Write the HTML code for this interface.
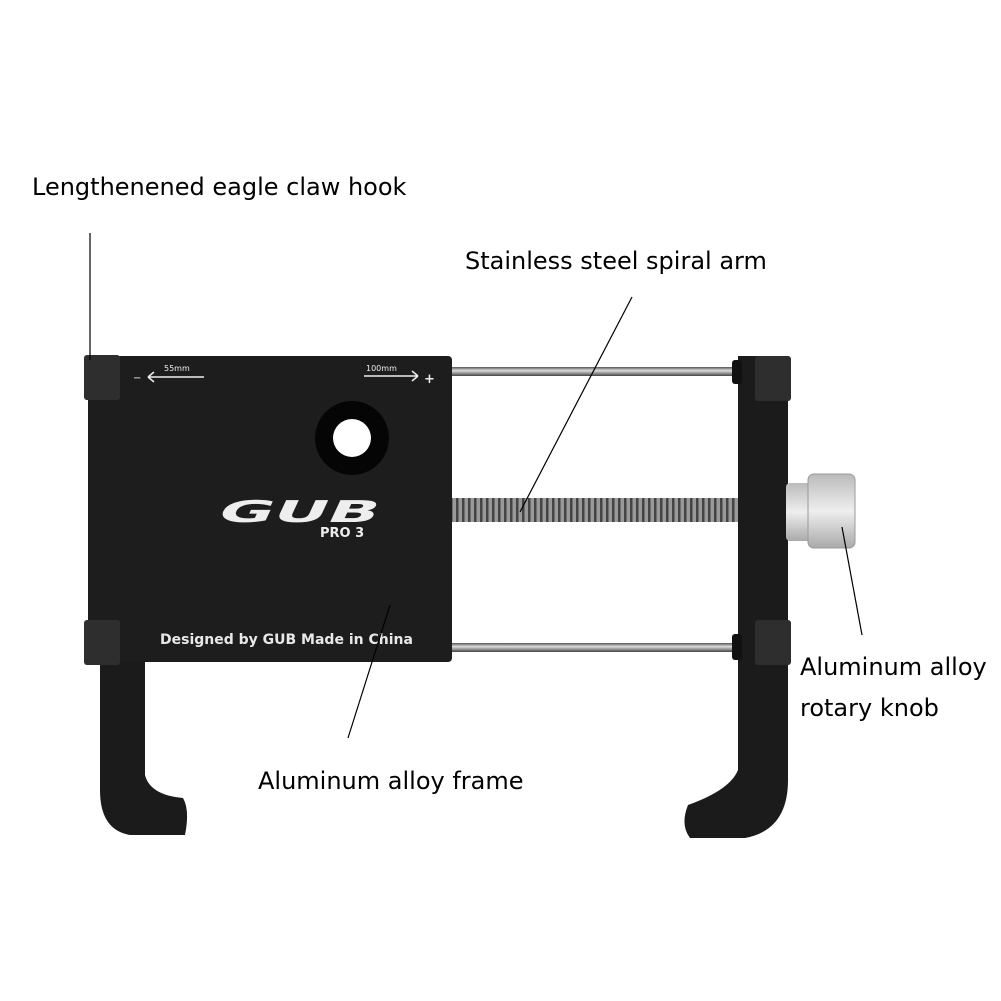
<!DOCTYPE html>
<html><head><meta charset="utf-8"><style>
html,body{margin:0;padding:0;background:#fff;width:1001px;height:1001px;overflow:hidden}
svg{display:block}
text{font-family:"DejaVu Sans","Liberation Sans",sans-serif}
</style></head><body>
<svg width="1001" height="1001" viewBox="0 0 1001 1001">
<defs>
<linearGradient id="rod" x1="0" y1="0" x2="0" y2="1"><stop offset="0" stop-color="#555"/><stop offset=".4" stop-color="#ddd"/><stop offset="1" stop-color="#444"/></linearGradient>
<pattern id="thr" width="6" height="22" patternUnits="userSpaceOnUse"><rect width="6" height="22" fill="#999"/><rect width="2.5" height="22" fill="#444"/></pattern>
<linearGradient id="knob" x1="0" y1="0" x2="0" y2="1"><stop offset="0" stop-color="#bbb"/><stop offset=".5" stop-color="#eee"/><stop offset="1" stop-color="#aaa"/></linearGradient>
</defs>
<rect x="450" y="367" width="292" height="9" fill="url(#rod)"/>
<rect x="450" y="643" width="292" height="9" fill="url(#rod)"/>
<rect x="450" y="498" width="292" height="24" fill="url(#thr)"/>
<path d="M100 650 L145 650 L145 775 Q150 795 183 798 Q190 810 185 835 L130 835 Q100 830 100 790 Z" fill="#1b1b1b"/>
<rect x="88" y="356" width="364" height="306" rx="4" fill="#1d1d1d"/>
<circle cx="352" cy="438" r="37" fill="#050505"/>
<circle cx="352" cy="438" r="19" fill="#fff"/>
<text x="0" y="0" font-size="30" font-weight="bold" fill="#eee" font-family="Liberation Sans" textLength="160" lengthAdjust="spacingAndGlyphs" transform="translate(215 522) skewX(-25)">GUB</text>
<text x="320" y="537" font-size="13" font-weight="bold" fill="#eee" font-family="Liberation Sans">PRO 3</text>
<text x="160" y="644" font-size="14" font-weight="bold" fill="#e8e8e8" font-family="Liberation Sans">Designed by GUB Made in China</text>
<text x="133" y="381" font-size="10" fill="#eee">−</text>
<path d="M148 377 H204 M148 377 l6 -5 M148 377 l6 5" stroke="#eee" stroke-width="1.5" fill="none"/>
<text x="164" y="371" font-size="8" fill="#eee">55mm</text>
<path d="M364 376 H418 M418 376 l-6 -5 M418 376 l-6 5" stroke="#eee" stroke-width="1.5" fill="none"/>
<text x="366" y="371" font-size="8" fill="#eee">100mm</text>
<text x="424" y="383" font-size="13" font-weight="bold" fill="#eee">+</text>
<rect x="84" y="355" width="36" height="45" rx="3" fill="#2e2e2e"/>
<rect x="84" y="620" width="36" height="45" rx="3" fill="#2e2e2e"/>
<path d="M738 356 L788 356 L788 780 Q788 830 745 838 L690 838 Q680 825 688 805 Q730 790 738 770 Z" fill="#1b1b1b"/>
<rect x="732" y="360" width="10" height="24" rx="3" fill="#111"/>
<rect x="732" y="634" width="10" height="26" rx="3" fill="#111"/>
<rect x="755" y="356" width="36" height="45" rx="3" fill="#2e2e2e"/>
<rect x="755" y="620" width="36" height="45" rx="3" fill="#2e2e2e"/>
<rect x="786" y="483" width="26" height="58" rx="4" fill="url(#knob)"/>
<rect x="808" y="474" width="47" height="74" rx="6" fill="url(#knob)" stroke="#999"/>
<g stroke="#000" stroke-width="1.2">
<line x1="90" y1="233" x2="90" y2="360"/>
<line x1="632" y1="297" x2="520" y2="512"/>
<line x1="390" y1="605" x2="348" y2="738"/>
<line x1="842" y1="527" x2="862" y2="635"/>
</g>
<g font-size="24" fill="#000" font-family="DejaVu Sans, Liberation Sans, sans-serif">
<text x="32" y="195">Lengthenened eagle claw hook</text>
<text x="465" y="269">Stainless steel spiral arm</text>
<text x="258" y="789">Aluminum alloy frame</text>
<text x="800" y="675">Aluminum alloy</text>
<text x="800" y="716">rotary knob</text>
</g>
</svg>
</body></html>
